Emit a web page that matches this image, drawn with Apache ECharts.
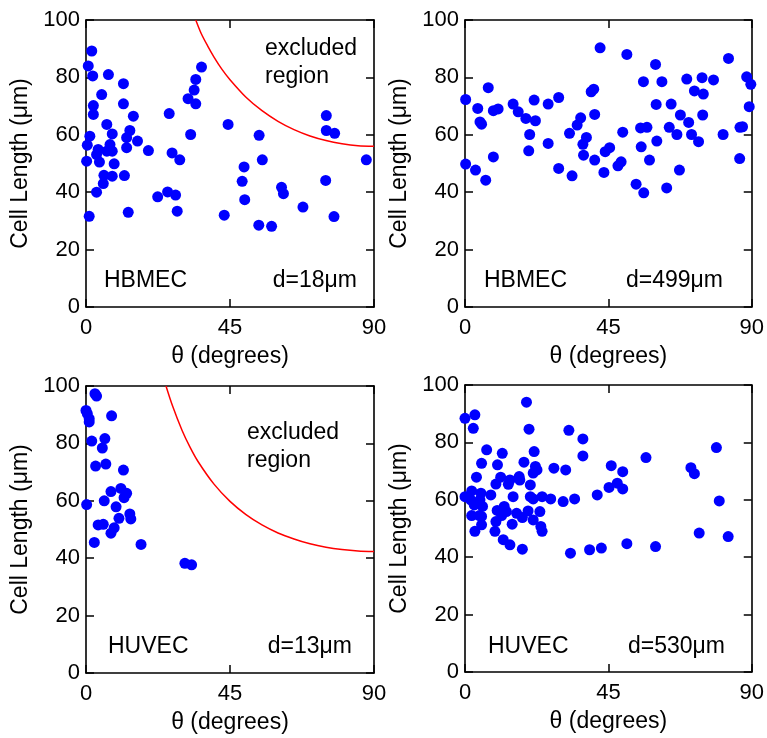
<!DOCTYPE html>
<html><head><meta charset="utf-8">
<script src="https://cdn.jsdelivr.net/npm/echarts@6/dist/echarts.min.js"></script>
<style>html,body{margin:0;padding:0;background:#fff}#c{width:767px;height:738px}</style>
</head><body><div id="c"></div>
<script>
// ---- data (θ in degrees, cell length in µm) ----
const xTickLabels = [0, 45, 90];
const yTickLabels = [0, 20, 40, 60, 80, 100];
const cellTypes = ['HBMEC', 'HBMEC', 'HUVEC', 'HUVEC'];
const distances = ['d=18μm', 'd=499μm', 'd=13μm', 'd=530μm'];

const hbmec18 = [[1.8,89.2],[0.7,84],[2.1,80.5],[7,81],[4.9,74],[11.7,77.8],[2.3,70.2],[2.3,67.1],[11.7,70.8],
 [36.1,83.6],[34.3,79.3],[33.8,75.6],[31.9,72.6],[34.3,70.8],[26,67.4],[14.8,66.5],[6.5,63.6],[44.4,63.6],
 [75.1,66.7],[75.1,61.5],[77.7,60.5],[54.1,59.8],[32.7,60.1],[1.2,59.5],[8.2,60.3],[13.7,61.5],[12.7,59],
 [16.1,57.8],[0.4,56.4],[7.5,56.6],[3.8,54.9],[12.7,55.5],[8.2,54.3],[6.5,54.3],[19.5,54.5],[26.9,53.7],
 [3.3,53.1],[0.2,50.8],[4.2,50.5],[8.8,49.9],[29.3,51.3],[55.1,51.3],[49.4,48.8],[87.6,51.3],[12,45.8],
 [5.6,45.9],[8.2,45.6],[5.4,43],[48.8,43.8],[74.9,44.1],[3.3,40],[25.5,40.1],[28,39],[22.4,38.4],[61.1,41.7],
 [61.7,39.5],[49.6,37.4],[67.8,34.8],[1,31.6],[13.2,33],[28.5,33.4],[43.2,32],[77.5,31.5],[54,28.5],[58,28.1]];

const hbmec499 = [[0.2,72.3],[0.2,49.8],[3.3,47.7],[6.5,44.2],[4,69.2],[4.7,64.5],[5.2,63.7],[7.3,76.4],[8.9,52.3],
 [8.9,68.4],[10.4,69],[15.1,70.7],[16.7,68],[19.1,65.7],[22.1,64.9],[21.7,72.1],[20.3,60.1],[20,54.4],[26.1,70.7],
 [26.1,57],[29.4,73],[29.4,48.3],[32.8,60.5],[33.6,45.7],[35.2,63.4],[36.3,65.9],[37,56.7],[38.1,59.1],[37.2,52.9],
 [39.6,75],[40.4,75.9],[40.7,67.1],[40.7,51.2],[42.4,90.3],[44,54.1],[45.4,55.5],[43.6,46.9],[48,49.2],[49,50.6],
 [49.5,60.9],[50.8,88],[53.7,42.8],[56.1,39.8],[55.3,55.8],[55.1,62.4],[57.1,62.6],[56,78.5],[59.8,84.5],[60,70.6],
 [60.2,57.8],[57.9,51.2],[61.8,78.5],[63.3,41.5],[64.1,62.6],[64.7,70.7],[66.5,60.1],[67.6,66.9],[67.3,47.7],
 [69.6,79.4],[70.2,64.3],[72,75.3],[71.1,60.1],[73.3,57.6],[74.4,79.9],[74.8,74.2],[74.6,66.9],[78,79.1],[82.7,86.6],
 [81,60.1],[86.2,51.7],[86.3,62.6],[87.1,62.8],[88.4,80.2],[89.7,77.6],[89.2,69.8]];

const huvec13 = [[2.8,97.3],[3.3,96.5],[0,91.5],[0.4,90.4],[1,88.6],[1,87.5],[8,89.6],[1.8,80.8],[5.9,81.7],[5.1,78.4],
 [6.2,72.8],[3,72.1],[11.7,70.7],[0.2,58.7],[5.7,60],[7.8,63.2],[10.9,64.3],[11.9,61.1],[12.7,62.6],[9.4,57.9],
 [13.7,55.4],[14,53.7],[10.3,53.9],[3.8,51.6],[5.4,51.8],[8.8,50.6],[7.8,48.7],[2.6,45.5],[17.2,44.8],[30.9,38.2],[33,37.7]];

const huvec530 = [[19.3,94],[0,88.4],[3.1,89.6],[2.6,84.9],[20.1,84.6],[32.6,84.2],[37,81.2],[78.9,78.2],[6.8,77.4],
 [11.7,76.2],[21.7,76.8],[37,75.3],[56.8,74.7],[5.2,72.7],[10.2,72.2],[18.5,73.1],[22.1,71.6],[27.9,71],[31.6,70.4],
 [45.9,71.9],[49.5,69.8],[70.9,71.2],[72,69.1],[22.6,70.4],[21.4,69.3],[3.6,67.9],[11.2,67.9],[14.1,66.9],[17,68.1],
 [17.2,66.9],[9.7,65.5],[13.6,65.4],[20.5,65.2],[45.2,64.3],[47.8,65.8],[49.5,63.8],[2.1,63.1],[5,62.3],[8.1,61.7],
 [0,61.1],[1,61.1],[1.8,60],[4.7,60],[15.1,61.1],[20.5,61.1],[21.4,60.3],[24.2,61.1],[26.9,60.3],[30.8,59.4],[34.4,60.3],
 [41.5,61.7],[79.8,59.6],[2.9,58.2],[5.5,57.7],[10.1,56.3],[12.3,57.7],[13,55.9],[16.2,55.3],[19.8,56.1],[23.5,55.9],
 [2.1,54.5],[4.5,54.5],[5.2,54.2],[11.5,54.5],[18,53.8],[21.4,53],[9.7,52.4],[14.8,51.5],[5.2,51.3],[23.8,50.7],
 [3.1,49],[9.4,49],[24.2,49],[12,46.1],[14.1,44.3],[18,42.8],[33.1,41.4],[39.1,42.6],[42.8,43.2],[50.8,44.7],
 [59.8,43.7],[73.5,48.4],[82.6,47.2]];

// excluded-region boundaries
const boundary18 = [[34.3,100],[36,95.3],[38,91],[40,87.1],[42.5,82.8],[45,79.2],[50,73.1],[55,68.4],[60,64.7],[65,61.8],[70,59.6],[75,58],[80,56.9],[85,56.2],[90,56]];
const boundary13 = [[25,100],[27,93.2],[30,84.6],[32.5,78.7],[35,73.7],[40,65.8],[45,59.8],[50,55.2],[55,51.6],[60,48.8],[65,46.7],[70,45],[75,43.8],[80,43],[85,42.5],[90,42.3]];

const panelData = [hbmec18, hbmec499, huvec13, huvec530];
const boundaries = [boundary18, null, boundary13, null];

// ---- layout ----
const FONT = 'Liberation Sans, Arial, Helvetica, sans-serif';
const grids = [
  {left: 86, top: 20, width: 288, height: 287},
  {left: 465, top: 20, width: 288, height: 287},
  {left: 86, top: 386, width: 288, height: 287},
  {left: 465, top: 385, width: 288, height: 287}
];

const frameLine = {show: true, onZero: false, lineStyle: {color: '#000', width: 1.6}};
const tick = {show: true, inside: true, length: 8, lineStyle: {color: '#000', width: 1.5}};
const xmin = xTickLabels[0], xmax = xTickLabels[xTickLabels.length - 1];
const ymin = yTickLabels[0], ymax = yTickLabels[yTickLabels.length - 1];
const xi = xTickLabels[1] - xTickLabels[0], yi = yTickLabels[1] - yTickLabels[0];

const xAxes = [], yAxes = [], series = [];
grids.forEach((g, i) => {
  xAxes.push({
    type: 'value', gridIndex: i, min: xmin, max: xmax, interval: xi, position: 'bottom',
    name: 'θ (degrees)', nameLocation: 'middle', nameGap: 38,
    nameTextStyle: {fontSize: 23, fontFamily: FONT, color: '#000'},
    axisLine: frameLine, splitLine: {show: false}, axisTick: tick,
    axisLabel: {fontSize: 22, fontFamily: FONT, color: '#000', margin: 10, showMinLabel: true, showMaxLabel: true}
  });
  yAxes.push({
    type: 'value', gridIndex: i, min: ymin, max: ymax, interval: yi, position: 'left',
    name: 'Cell Length (μm)', nameLocation: 'middle', nameGap: 54,
    nameTextStyle: {fontSize: 23, fontFamily: FONT, color: '#000'},
    axisLine: frameLine, splitLine: {show: false}, axisTick: tick,
    axisLabel: {fontSize: 22, fontFamily: FONT, color: '#000', margin: 6, showMinLabel: true, showMaxLabel: true}
  });
});
grids.forEach((g, i) => {
  xAxes.push({
    type: 'value', gridIndex: i, min: xmin, max: xmax, interval: xi, position: 'top',
    axisLine: frameLine, splitLine: {show: false}, axisLabel: {show: false}, axisTick: tick
  });
  yAxes.push({
    type: 'value', gridIndex: i, min: ymin, max: ymax, interval: yi, position: 'right',
    axisLine: frameLine, splitLine: {show: false}, axisLabel: {show: false}, axisTick: tick
  });
});

panelData.forEach((d, i) => {
  if (boundaries[i]) {
    series.push({
      type: 'line', xAxisIndex: i, yAxisIndex: i, data: boundaries[i], showSymbol: false, smooth: 0.3,
      lineStyle: {color: '#ff0000', width: 1.5}, z: 2, silent: true
    });
  }
  series.push({
    type: 'scatter', xAxisIndex: i, yAxisIndex: i, data: d, symbol: 'circle', symbolSize: 11,
    itemStyle: {color: '#0000ff', opacity: 1}, z: 3
  });
});

// ---- annotation texts ----
const txt = (x, y, text, align) => ({
  type: 'text', x: x, y: y, z: 10,
  style: {text: text, fontSize: 23, fontFamily: FONT, fill: '#000', align: align, verticalAlign: 'middle',
          textAlign: align, textVerticalAlign: 'middle'}
});
const labelPos = [
  {cx: 104, dx: 357, y: 281},
  {cx: 484, dx: 723, y: 281},
  {cx: 108, dx: 352, y: 647},
  {cx: 488, dx: 725, y: 647}
];
const graphic = [];
labelPos.forEach((p, i) => {
  graphic.push(txt(p.cx, p.y, cellTypes[i], 'left'));
  graphic.push(txt(p.dx, p.y, distances[i], 'right'));
});
graphic.push(txt(265, 49, 'excluded', 'left'));
graphic.push(txt(265, 77, 'region', 'left'));
graphic.push(txt(247, 433, 'excluded', 'left'));
graphic.push(txt(247, 461, 'region', 'left'));

const chart = echarts.init(document.getElementById('c'), null, {renderer: 'canvas'});
chart.setOption({
  animation: false,
  backgroundColor: '#fff',
  grid: grids, xAxis: xAxes, yAxis: yAxes, series: series, graphic: graphic
});
</script>
</body></html>
